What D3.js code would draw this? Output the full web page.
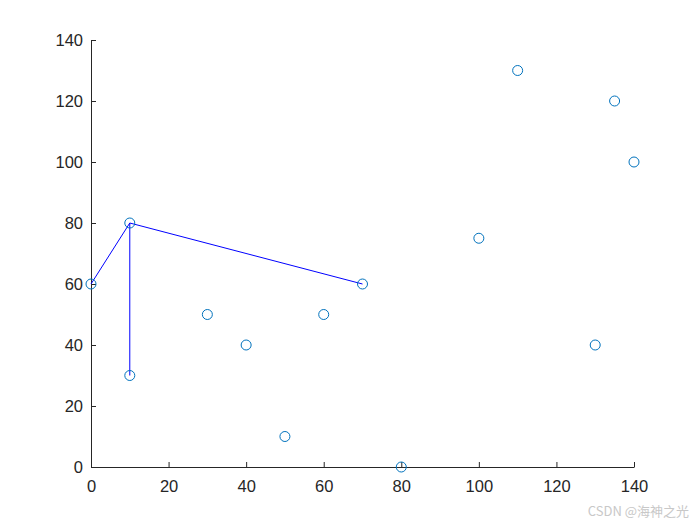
<!DOCTYPE html>
<html>
<head>
<meta charset="utf-8">
<script src="https://cdn.jsdelivr.net/npm/d3@7"></script>
<style>
	body { margin: 0; background: #fff; }
	svg text { font-family: "Liberation Sans", Arial, sans-serif; }
</style>
</head>
<body>
<div id="chart"></div>
<script>
// node coordinates
var nodeX = [0, 10, 10, 30, 40, 50, 60, 70, 80, 100, 110, 130, 135, 140];
var nodeY = [60, 80, 30, 50, 40, 10, 50, 60, 0, 75, 130, 40, 120, 100];
// edges as index pairs
var edgeFrom = [0, 1, 1];
var edgeTo   = [1, 2, 7];
var xTicks = [0, 20, 40, 60, 80, 100, 120, 140];
var yTicks = [0, 20, 40, 60, 80, 100, 120, 140];

var width = 700, height = 525;
var margin = {top: 40, right: 66, bottom: 58, left: 91};
var viewWidth  = width  - margin.left - margin.right;
var viewHeight = height - margin.top  - margin.bottom;

var svg = d3.select('#chart').append('svg')
	.attr('width', width)
	.attr('height', height);

var vis = svg.append('g')
	.attr('transform', 'translate(' + margin.left + ',' + margin.top + ')');

var xScale = d3.scaleLinear().domain([0, 140]).range([0, viewWidth]);
var yScale = d3.scaleLinear().domain([0, 140]).range([viewHeight, 0]);

// axes, ticks inside like matlab
var xAxis = d3.axisBottom(xScale).tickValues(xTicks).tickSizeInner(-5).tickSizeOuter(0).tickPadding(13);
var yAxis = d3.axisLeft(yScale).tickValues(yTicks).tickSizeInner(-5).tickSizeOuter(0).tickPadding(8);

var gx = vis.append('g')
	.attr('transform', 'translate(0,' + viewHeight + ')')
	.call(xAxis);
var gy = vis.append('g').call(yAxis);

[gx, gy].forEach(function(g) {
	g.select('.domain').attr('stroke', '#262626');
	g.selectAll('.tick line').attr('stroke', '#262626');
	g.selectAll('.tick text')
		.attr('fill', '#262626')
		.style('font-size', '16.5px')
		.style('font-family', '"Liberation Sans", Arial, sans-serif');
});

var nodes = nodeX.map(function(x, i) { return {x: x, y: nodeY[i]}; });

// edges
vis.append('g').selectAll('line')
	.data(edgeFrom)
	.enter().append('line')
	.attr('x1', function(d) { return xScale(nodes[d].x); })
	.attr('y1', function(d) { return yScale(nodes[d].y); })
	.attr('x2', function(d, i) { return xScale(nodes[edgeTo[i]].x); })
	.attr('y2', function(d, i) { return yScale(nodes[edgeTo[i]].y); })
	.attr('stroke', '#0000ff')
	.attr('stroke-width', 1);

// node markers
vis.append('g').selectAll('circle')
	.data(nodes)
	.enter().append('circle')
	.attr('cx', function(d) { return xScale(d.x); })
	.attr('cy', function(d) { return yScale(d.y); })
	.attr('r', 5)
	.attr('fill', 'none')
	.attr('stroke', '#0072bd')
	.attr('stroke-width', 1);

// watermark
svg.append('text')
	.attr('x', 689)
	.attr('y', 516)
	.attr('text-anchor', 'end')
	.attr('fill', '#c8c8c8')
	.style('font-size', '13px')
	.style('font-family', '"Noto Sans CJK SC", sans-serif')
	.text('CSDN @海神之光');
</script>
</body>
</html>
